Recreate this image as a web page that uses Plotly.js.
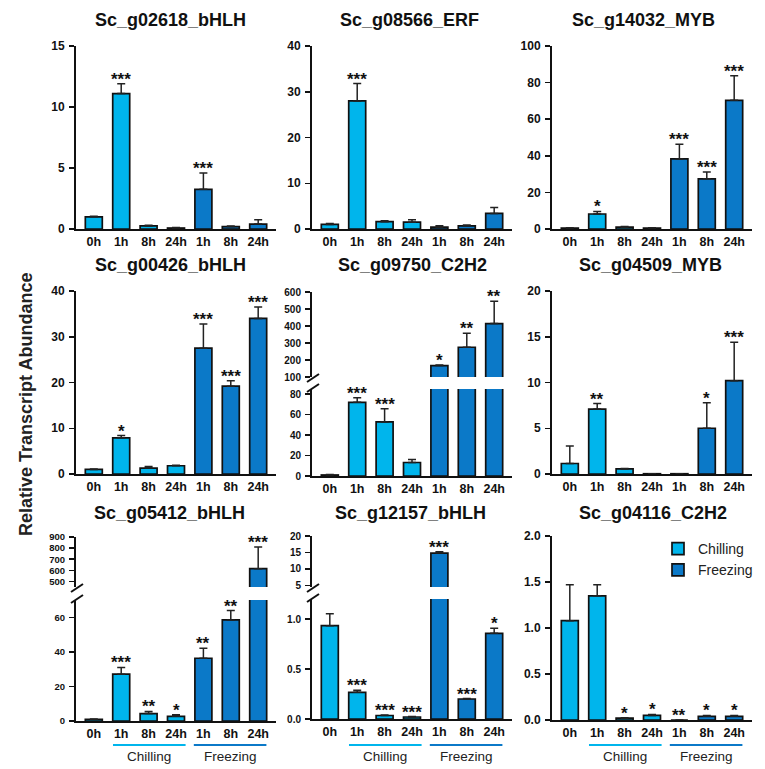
<!DOCTYPE html>
<html><head><meta charset="utf-8">
<script src="https://cdn.plot.ly/plotly-3.0.1.min.js"></script>
<style>html,body{margin:0;padding:0;background:#fff}#chart{width:765px;height:769px}</style>
</head><body><div id="chart"></div>
<script>
// ---------- data ----------
const categories = ["0h","1h","8h","24h","1h","8h","24h"];
const seriesNames = ["Chilling","Freezing"];
const chillIdx = [0,1,2,3];
const freezeIdx = [4,5,6];

const g02618_mean = [1.0, 11.1, 0.25, 0.08, 3.25, 0.2, 0.4];
const g02618_err  = [0.05, 0.8, 0.05, 0.04, 1.35, 0.05, 0.35];
const g02618_sig  = ["", "***", "", "", "***", "", ""];

const g08566_mean = [1.0, 28.0, 1.6, 1.5, 0.4, 0.7, 3.4];
const g08566_err  = [0.2, 3.8, 0.2, 0.5, 0.3, 0.2, 1.3];
const g08566_sig  = ["", "***", "", "", "", "", ""];

const g14032_mean = [0.5, 8.2, 1.0, 0.5, 38.3, 27.4, 70.3];
const g14032_err  = [0.2, 1.4, 0.3, 0.2, 8.0, 3.8, 13.4];
const g14032_sig  = ["", "*", "", "", "***", "***", "***"];

const g00426_mean = [1.0, 7.9, 1.3, 1.8, 27.5, 19.2, 34.0];
const g00426_err  = [0.1, 0.5, 0.35, 0.1, 5.3, 1.2, 2.5];
const g00426_sig  = ["", "*", "", "", "***", "***", "***"];

const g09750_mean = [1.0, 72.0, 52.8, 13.2, 167, 275, 414];
const g09750_err  = [0.5, 4.5, 13.0, 3.0, 3, 82, 132];
const g09750_sig  = ["", "***", "***", "", "*", "**", "**"];

const g04509_mean = [1.15, 7.1, 0.55, 0.03, 0.03, 5.0, 10.2];
const g04509_err  = [1.9, 0.6, 0.05, 0.0, 0.0, 2.8, 4.2];
const g04509_sig  = ["", "**", "", "", "", "*", "***"];

const g05412_mean = [1.0, 27.1, 4.3, 2.7, 36.3, 58.5, 615];
const g05412_err  = [0.2, 3.9, 1.2, 0.9, 5.8, 5.4, 195];
const g05412_sig  = ["", "***", "**", "*", "**", "**", "***"];

const g12157_mean = [0.933, 0.267, 0.035, 0.02, 14.8, 0.2, 0.857];
const g12157_err  = [0.12, 0.02, 0.005, 0.005, 0.4, 0.005, 0.05];
const g12157_sig  = ["", "***", "***", "***", "***", "***", "*"];

const g04116_mean = [1.08, 1.35, 0.02, 0.05, 0.0, 0.04, 0.04];
const g04116_err  = [0.39, 0.12, 0.005, 0.01, 0.0, 0.01, 0.01];
const g04116_sig  = ["", "", "*", "*", "**", "*", "*"];

const yTitle = "Relative Transcript Abundance";

// ---------- layout helpers ----------
const W = 765, H = 769;
const fx = p => p / W, fy = p => 1 - p / H;
const FONT = 'Arial, "Liberation Sans", sans-serif';
const C_CHILL = '#00b5ec', C_FREEZE = '#0b79c8';
const colDom = [[76,276],[312,512],[552,752]];
const rowDom = [[229,46],[474,291],[720,536]];
const titleY = [20, 265, 513];
const f1 = v => v.toFixed(1);

const panels = [
  {title:"Sc_g02618_bHLH", mean:g02618_mean, err:g02618_err, sig:g02618_sig, row:0, col:0, tx:170, range:[0,15], ticks:[0,5,10,15]},
  {title:"Sc_g08566_ERF",  mean:g08566_mean, err:g08566_err, sig:g08566_sig, row:0, col:1, tx:409, range:[0,40], ticks:[0,10,20,30,40]},
  {title:"Sc_g14032_MYB",  mean:g14032_mean, err:g14032_err, sig:g14032_sig, row:0, col:2, tx:643, range:[0,100], ticks:[0,20,40,60,80,100]},
  {title:"Sc_g00426_bHLH", mean:g00426_mean, err:g00426_err, sig:g00426_sig, row:1, col:0, tx:170, range:[0,40], ticks:[0,10,20,30,40]},
  {title:"Sc_g09750_C2H2", mean:g09750_mean, err:g09750_err, sig:g09750_sig, row:1, col:1, tx:412, fs:10,
     low:{range:[0,85], ticks:[0,20,40,60,80], dom:[476,389]}, high:{range:[100,600], ticks:[100,200,300,400,500,600], dom:[377,292]}},
  {title:"Sc_g04509_MYB",  mean:g04509_mean, err:g04509_err, sig:g04509_sig, row:1, col:2, tx:650, range:[0,20], ticks:[0,5,10,15,20]},
  {title:"Sc_g05412_bHLH", mean:g05412_mean, err:g05412_err, sig:g05412_sig, row:2, col:0, tx:169, fs:9.5,
     low:{range:[0,70], ticks:[0,20,40,60], dom:[721,600]}, high:{range:[450,900], ticks:[500,600,700,800,900], dom:[587,537]}},
  {title:"Sc_g12157_bHLH", mean:g12157_mean, err:g12157_err, sig:g12157_sig, row:2, col:1, tx:410, fs:10,
     low:{range:[0,1.2], ticks:[0,0.5,1.0], dom:[719,599], fmt:f1}, high:{range:[4.5,20], ticks:[5,10,15,20], dom:[587,536]}},
  {title:"Sc_g04116_C2H2", mean:g04116_mean, err:g04116_err, sig:g04116_sig, row:2, col:2, tx:653, range:[0,2], ticks:[0,0.5,1.0,1.5,2.0], fmt:f1}
];

const layout = {
  width: 765, height: 769, margin:{l:0,r:0,t:0,b:0,autoexpand:false},
  paper_bgcolor:'#ffffff', plot_bgcolor:'rgba(0,0,0,0)',
  barmode:'overlay', showlegend:true,
  font:{family:FONT, color:'#111'},
  legend:{x:fx(658), y:fy(533), xanchor:'left', yanchor:'top', bgcolor:'rgba(0,0,0,0)',
          font:{family:FONT, size:14, color:'#222'}, itemwidth:30, tracegroupgap:0, traceorder:'normal'},
  annotations:[], shapes:[]
};
const traces = [];

function yAxis(range, ticks, dom, size, fmt, anchor){
  const a = {range, tickmode:'array', tickvals:ticks, domain:[fy(dom[0]), fy(dom[1])], anchor,
    showline:true, linewidth:2, linecolor:'#111', ticks:'outside', ticklen:5, tickwidth:1.5, tickcolor:'#111',
    showgrid:false, zeroline:false, fixedrange:true, ticklabelstandoff:2,
    tickfont:{family:FONT, size, color:'#111', weight:'bold'}};
  if (fmt) a.ticktext = ticks.map(fmt);
  return a;
}

function addBars(p, xr, yr, legend){
  const groups = [[chillIdx, C_CHILL, seriesNames[0]], [freezeIdx, C_FREEZE, seriesNames[1]]];
  groups.forEach(([idx, col, name]) => {
    traces.push({type:'bar', name, legendgroup:name, showlegend:legend,
      x: idx, y: idx.map(i => p.mean[i]), width:0.62, xaxis:xr, yaxis:yr, hoverinfo:'skip',
      marker:{color:col, line:{color:'#111', width:1.7}},
      error_y:{type:'data', symmetric:false, array: idx.map(i => p.err[i]), arrayminus: idx.map(() => 0),
               color:'#222', thickness:1.5, width:4}});
  });
}

let extraY = 10;
panels.forEach((p, k) => {
  const n = k + 1;
  const xr = 'x' + (n === 1 ? '' : n), yr = 'y' + (n === 1 ? '' : n);
  const xKey = 'xaxis' + (n === 1 ? '' : n), yKey = 'yaxis' + (n === 1 ? '' : n);
  const cd = colDom[p.col];
  layout[xKey] = {domain:[fx(cd[0]), fx(cd[1])], range:[-0.65, 6.65], anchor:yr,
    tickmode:'array', tickvals:categories.map((c,i)=>i), ticktext:categories, ticks:'',
    showline:true, linewidth:2, linecolor:'#111', showgrid:false, zeroline:false, fixedrange:true,
    tickfont:{family:FONT, size:12.5, color:'#111', weight:'bold'}};
  const fs = p.fs || 12;
  let yrHigh = null;
  if (p.low) {
    layout[yKey] = yAxis(p.low.range, p.low.ticks, p.low.dom, fs, p.low.fmt, xr);
    const hn = extraY++;
    yrHigh = 'y' + hn;
    layout['yaxis' + hn] = yAxis(p.high.range, p.high.ticks, p.high.dom, fs, p.high.fmt, xr);
    addBars(p, xr, yr, false);
    addBars(p, xr, yrHigh, false);
    // axis break marks
    const ax = cd[0];
    [p.high.dom[0] + 1, p.low.dom[1] - 1].forEach(yy => {
      layout.shapes.push({type:'line', xref:'paper', yref:'paper', x0:fx(ax-5), y0:fy(yy+4), x1:fx(ax+7), y1:fy(yy-4),
        line:{color:'#111', width:2}});
    });
  } else {
    layout[yKey] = yAxis(p.range, p.ticks, rowDom[p.row], fs, p.fmt, xr);
    addBars(p, xr, yr, n === 9);
  }
  // significance stars
  p.sig.forEach((s, i) => {
    if (!s) return;
    const top = p.mean[i] + p.err[i];
    const useHigh = p.low && top > p.low.range[1];
    layout.annotations.push({xref:xr, yref: useHigh ? yrHigh : yr, x:i, y:top, text:s, showarrow:false,
      yanchor:'bottom', yshift:-7, font:{family:FONT, size:17, color:'#111', weight:'bold'}});
  });
  // panel title
  layout.annotations.push({xref:'paper', yref:'paper', x:fx(p.tx), y:fy(titleY[p.row]), text:p.title,
    showarrow:false, xanchor:'center', yanchor:'middle', font:{family:FONT, size:18, color:'#111', weight:'bold'}});
  // group labels
  if (p.row === 2) {
    layout.shapes.push({type:'line', xref:xr, yref:'paper', x0:0.7, x1:3.35, y0:fy(745), y1:fy(745), line:{color:C_CHILL, width:2}});
    layout.shapes.push({type:'line', xref:xr, yref:'paper', x0:3.65, x1:6.3, y0:fy(745), y1:fy(745), line:{color:C_FREEZE, width:2}});
    layout.annotations.push({xref:xr, yref:'paper', x:2, y:fy(756), text:seriesNames[0], showarrow:false, yanchor:'middle',
      font:{family:FONT, size:13.5, color:'#222'}});
    layout.annotations.push({xref:xr, yref:'paper', x:5, y:fy(756), text:seriesNames[1], showarrow:false, yanchor:'middle',
      font:{family:FONT, size:13.5, color:'#222'}});
  }
});

layout.annotations.push({xref:'paper', yref:'paper', x:fx(26), y:fy(405), text:yTitle, textangle:-90, showarrow:false,
  xanchor:'center', yanchor:'middle', font:{family:FONT, size:18, color:'#222', weight:'bold'}});

Plotly.newPlot('chart', traces, layout, {staticPlot:true, displayModeBar:false});
</script>
</body></html>
